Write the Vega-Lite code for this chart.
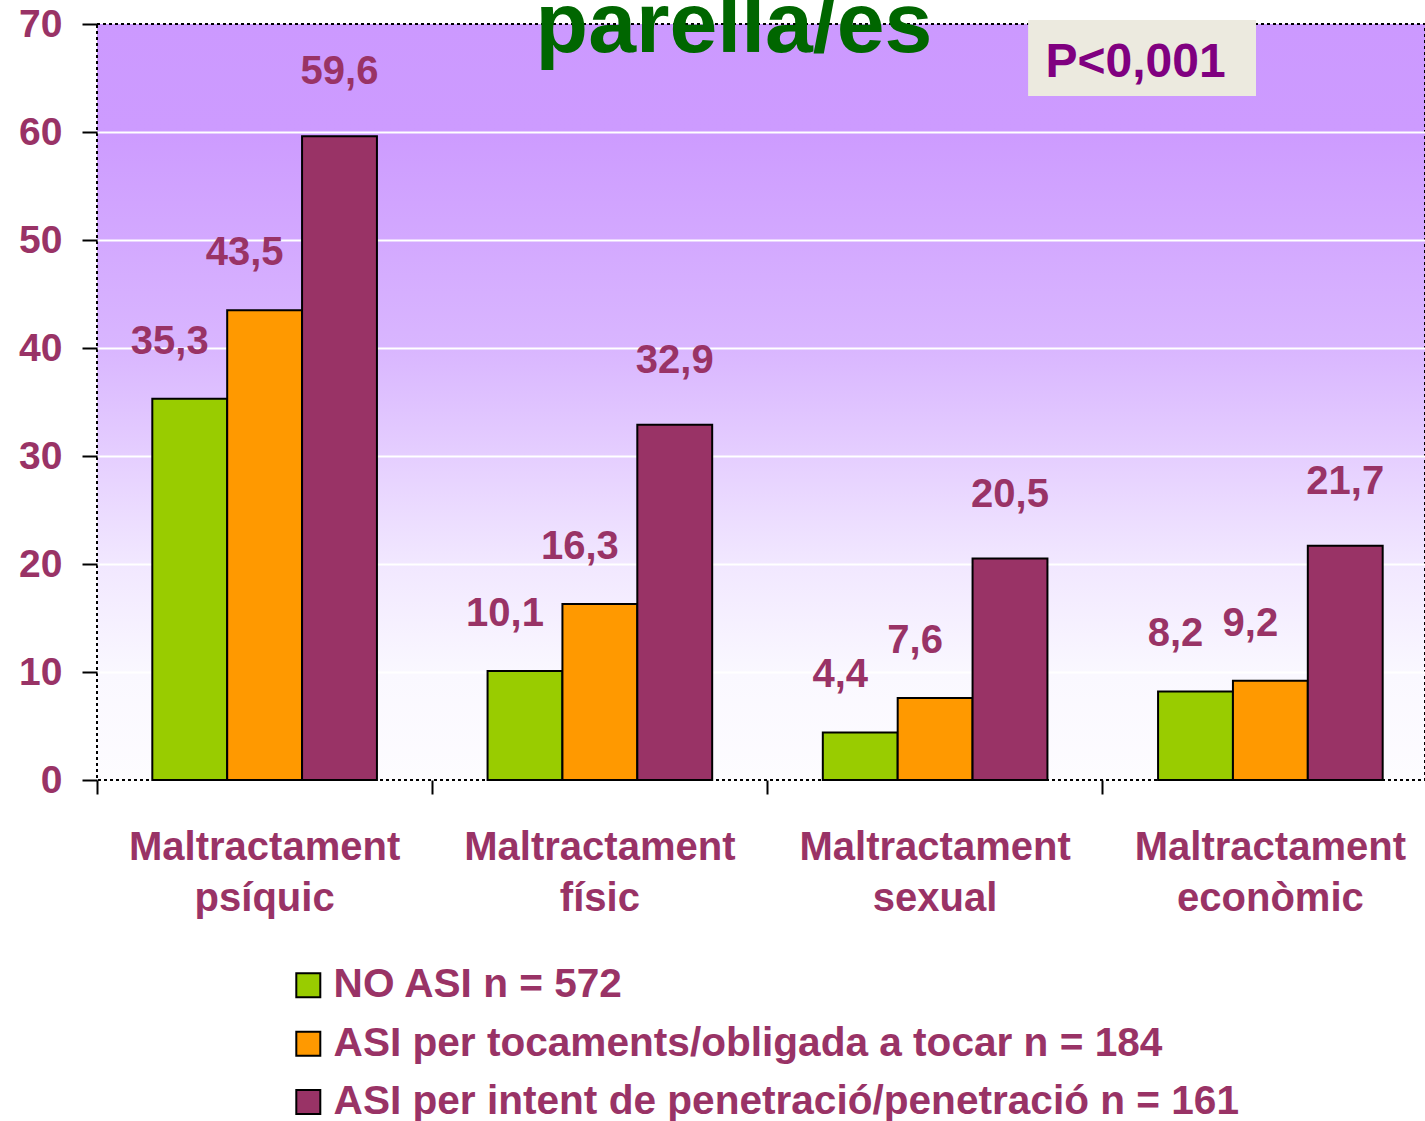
{
  "$schema": "https://vega.github.io/schema/vega-lite/v6.json",
  "width": 1328,
  "height": 756,
  "autosize": {"type": "none"},
  "padding": {"left": 97, "top": 24, "right": 0, "bottom": 341},
  "background": "white",
  "title": {
    "text": "parella/es",
    "fontSize": 86,
    "font": "Liberation Sans",
    "fontWeight": "bold",
    "color": "#006600",
    "anchor": "middle",
    "frame": "group",
    "baseline": "alphabetic",
    "offset": -34,
    "dx": -27,
    "dy": 99
  },
  "config": {
    "font": "Liberation Sans",
    "view": {
      "fill": {
        "gradient": "linear",
        "x1": 0, "y1": 0, "x2": 0, "y2": 1,
        "stops": [
          {"offset": 0, "color": "#CC99FF"},
          {"offset": 0.14, "color": "#CD9BFF"},
          {"offset": 0.43, "color": "#D9B6FF"},
          {"offset": 0.57, "color": "#E5CEFF"},
          {"offset": 0.71, "color": "#F1E7FF"},
          {"offset": 0.86, "color": "#FAF8FF"},
          {"offset": 1, "color": "#FDFCFF"}
        ]
      },
      "stroke": "black",
      "strokeDash": [3, 3],
      "strokeWidth": 2
    }
  },
  "datasets": {
    "bars": [
      {"category": "Maltractament psíquic", "group": "NO ASI n = 572", "value": 35.3, "label": "35,3"},
      {"category": "Maltractament psíquic", "group": "ASI per tocaments/obligada a tocar n = 184", "value": 43.5, "label": "43,5"},
      {"category": "Maltractament psíquic", "group": "ASI per intent de penetració/penetració n = 161", "value": 59.6, "label": "59,6"},
      {"category": "Maltractament físic", "group": "NO ASI n = 572", "value": 10.1, "label": "10,1"},
      {"category": "Maltractament físic", "group": "ASI per tocaments/obligada a tocar n = 184", "value": 16.3, "label": "16,3"},
      {"category": "Maltractament físic", "group": "ASI per intent de penetració/penetració n = 161", "value": 32.9, "label": "32,9"},
      {"category": "Maltractament sexual", "group": "NO ASI n = 572", "value": 4.4, "label": "4,4"},
      {"category": "Maltractament sexual", "group": "ASI per tocaments/obligada a tocar n = 184", "value": 7.6, "label": "7,6"},
      {"category": "Maltractament sexual", "group": "ASI per intent de penetració/penetració n = 161", "value": 20.5, "label": "20,5"},
      {"category": "Maltractament econòmic", "group": "NO ASI n = 572", "value": 8.2, "label": "8,2"},
      {"category": "Maltractament econòmic", "group": "ASI per tocaments/obligada a tocar n = 184", "value": 9.2, "label": "9,2"},
      {"category": "Maltractament econòmic", "group": "ASI per intent de penetració/penetració n = 161", "value": 21.7, "label": "21,7"}
    ],
    "note": [{"text": "P<0,001"}]
  },
  "data": {"name": "bars"},
  "resolve": {"axis": {"x": "independent"}},
  "layer": [
    {
      "mark": {"type": "bar", "stroke": "black", "strokeWidth": 2},
      "encoding": {
        "x": {
          "field": "category", "type": "nominal", "sort": null,
          "scale": {"range": [0, 1341], "paddingInner": 0.33, "paddingOuter": 0.165},
          "axis": {
            "orient": "bottom",
            "title": null,
            "labelAngle": 0,
            "labelExpr": "split(datum.label, ' ')",
            "labelFontSize": 40,
            "labelLineHeight": 51,
            "labelFontWeight": "bold",
            "labelColor": "#993366",
            "labelPadding": 47,
            "labelBaseline": "top",
            "labelLimit": 1000,
            "ticks": false,
            "domain": false,
            "grid": false
          }
        },
        "xOffset": {"field": "group", "type": "nominal", "sort": null, "scale": {"paddingInner": 0, "paddingOuter": 0}},
        "y": {
          "field": "value", "type": "quantitative",
          "scale": {"domain": [0, 70], "nice": false},
          "axis": {
            "title": null,
            "values": [0, 10, 20, 30, 40, 50, 60, 70],
            "domain": false,
            "grid": true,
            "gridColor": {"condition": {"test": "datum.value == 0 || datum.value == 70", "value": "transparent"}, "value": "white"},
            "gridWidth": 2,
            "tickColor": "black",
            "tickWidth": 2,
            "tickSize": 15,
            "labelPadding": 20,
            "labelFontSize": 39,
            "labelFontWeight": "bold",
            "labelColor": "#993366",
            "labelBaseline": "middle"
          }
        },
        "color": {
          "field": "group", "type": "nominal", "sort": null,
          "scale": {"range": ["#99CC00", "#FF9900", "#993366"]},
          "legend": {
            "orient": "none",
            "legendX": 191,
            "legendY": 941,
            "title": null,
            "direction": "vertical",
            "padding": 0,
            "symbolType": "square",
            "symbolSize": 576,
            "symbolStrokeColor": "black",
            "symbolStrokeWidth": 2,
            "symbolOpacity": 1,
            "labelFontSize": 40.6,
            "labelFontWeight": "bold",
            "labelColor": "#993366",
            "labelOffset": 5,
            "labelLimit": 2000,
            "rowPadding": 17.4
          }
        }
      }
    },
    {
      "transform": [{"filter": "datum.group != 'ASI per intent de penetració/penetració n = 161'"}],
      "mark": {"type": "text", "dx": -20, "dy": -57, "baseline": "middle", "align": "center", "fontSize": 40, "fontWeight": "bold", "color": "#993366"},
      "encoding": {
        "x": {
          "field": "category", "type": "nominal", "sort": null,
          "axis": {
            "orient": "bottom",
            "title": null,
            "labels": false,
            "domain": false,
            "grid": false,
            "ticks": true,
            "tickSize": 14,
            "tickWidth": 2,
            "tickColor": "black",
            "bandPosition": -0.246
          }
        },
        "xOffset": {"field": "group", "type": "nominal", "sort": null},
        "y": {"field": "value", "type": "quantitative"},
        "text": {"field": "label"}
      }
    },
    {
      "transform": [{"filter": "datum.group == 'ASI per intent de penetració/penetració n = 161'"}],
      "mark": {"type": "text", "dx": 0, "dy": -64, "baseline": "middle", "align": "center", "fontSize": 40, "fontWeight": "bold", "color": "#993366"},
      "encoding": {
        "x": {"field": "category", "type": "nominal", "sort": null, "axis": null},
        "xOffset": {"field": "group", "type": "nominal", "sort": null},
        "y": {"field": "value", "type": "quantitative"},
        "text": {"field": "label"}
      }
    },
    {
      "data": {"name": "note"},
      "mark": {"type": "rect", "fill": "#ECEADF"},
      "encoding": {
        "x": {"datum": "Maltractament sexual", "type": "nominal", "bandPosition": 0.914, "axis": null},
        "x2": {"datum": "Maltractament econòmic", "bandPosition": 0.436},
        "y": {"datum": 70.37, "type": "quantitative"},
        "y2": {"datum": 63.33}
      }
    },
    {
      "data": {"name": "note"},
      "mark": {"type": "text", "align": "center", "baseline": "alphabetic", "fontSize": 48, "fontWeight": "bold", "color": "#800080"},
      "encoding": {
        "x": {"datum": "Maltractament econòmic", "type": "nominal", "bandPosition": -0.1, "axis": null},
        "y": {"datum": 65.1, "type": "quantitative"},
        "text": {"field": "text"}
      }
    }
  ]
}
